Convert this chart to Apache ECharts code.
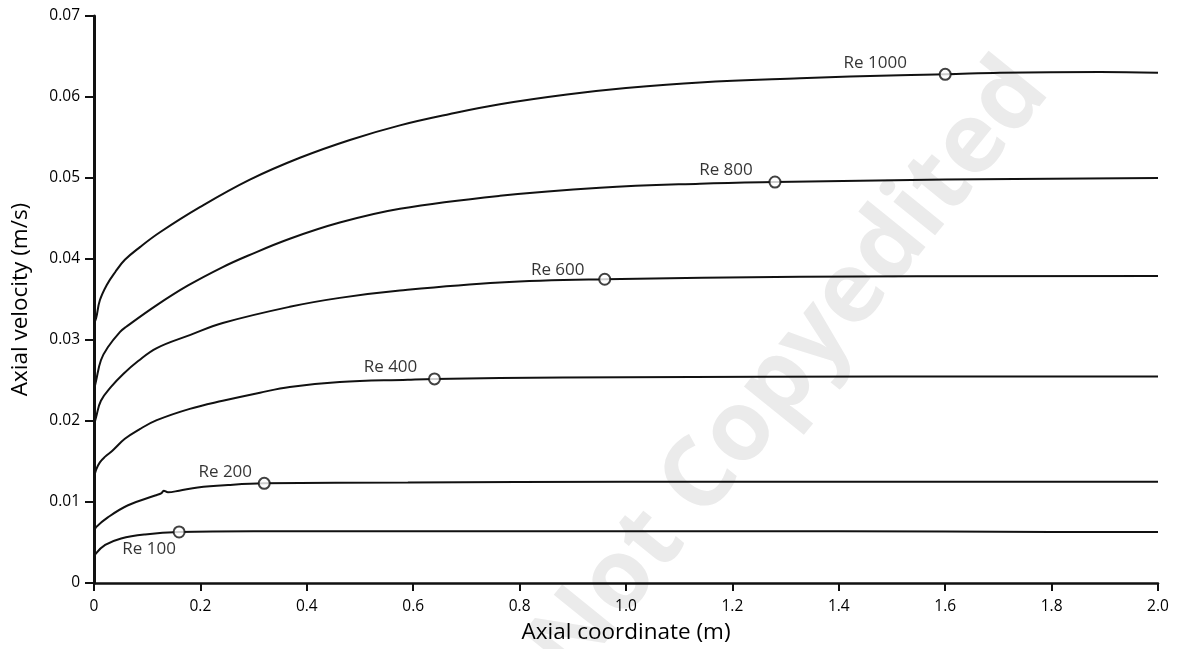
<!DOCTYPE html>
<html>
<head>
<meta charset="utf-8">
<script src="https://cdn.jsdelivr.net/npm/echarts@6/dist/echarts.min.js"></script>
<style>
html,body{margin:0;padding:0;background:#fff;}
#chart{width:1181px;height:649px;}
</style>
</head>
<body>
<div id="chart"></div>
<script>
// ---- data ----
const xTicks = [0, 0.2, 0.4, 0.6, 0.8, 1.0, 1.2, 1.4, 1.6, 1.8, 2.0];
const yTicks = [0, 0.01, 0.02, 0.03, 0.04, 0.05, 0.06, 0.07];

const re100X = [0, 0.003, 0.021, 0.051, 0.096, 0.16, 0.3, 0.6, 1.0, 1.4, 1.8, 2.0];
const re100Y = [0.0030, 0.0036, 0.0047, 0.0055, 0.0060, 0.0063, 0.0064, 0.0064, 0.0064, 0.0064, 0.0063, 0.0063];

const re200X = [0, 0.004, 0.026, 0.064, 0.115, 0.127, 0.131, 0.139, 0.16, 0.195, 0.252, 0.32, 0.59, 1.0, 1.5, 2.0];
const re200Y = [0.0063, 0.0069, 0.0081, 0.0096, 0.0108, 0.0111, 0.0114, 0.0112, 0.0114, 0.0118, 0.0121, 0.0123, 0.0124, 0.0125, 0.0125, 0.0125];

const re400X = [0, 0.004, 0.011, 0.021, 0.034, 0.058, 0.086, 0.118, 0.18, 0.242, 0.312, 0.368, 0.462, 0.59, 0.64, 0.763, 1.0, 1.5, 2.0];
const re400Y = [0.0130, 0.0140, 0.0149, 0.0156, 0.0163, 0.0178, 0.0190, 0.0201, 0.0215, 0.0225, 0.0235, 0.0242, 0.0248, 0.0251, 0.0252, 0.0253, 0.0254, 0.0255, 0.0255];

const re600X = [0, 0.004, 0.013, 0.032, 0.055, 0.083, 0.118, 0.18, 0.242, 0.368, 0.462, 0.575, 0.763, 0.96, 1.327, 2.0];
const re600Y = [0.0195, 0.0205, 0.0225, 0.0242, 0.0258, 0.0274, 0.0290, 0.0306, 0.0321, 0.0341, 0.0352, 0.0361, 0.0371, 0.0375, 0.0378, 0.0379];

const re800X = [0, 0.004, 0.013, 0.026, 0.049, 0.06, 0.118, 0.176, 0.242, 0.289, 0.368, 0.462, 0.575, 0.763, 0.951, 1.139, 1.28, 1.6, 2.0];
const re800Y = [0.0238, 0.0250, 0.0275, 0.0291, 0.0310, 0.0316, 0.0343, 0.0367, 0.0390, 0.0404, 0.0425, 0.0445, 0.0462, 0.0478, 0.0488, 0.0493, 0.0495, 0.0498, 0.0500];

const re1000X = [0, 0.004, 0.011, 0.024, 0.04, 0.058, 0.087, 0.124, 0.199, 0.293, 0.387, 0.481, 0.575, 0.669, 0.763, 0.889, 1.0, 1.139, 1.327, 1.515, 1.6, 1.703, 1.891, 2.0];
const re1000Y = [0.0320, 0.0327, 0.0349, 0.0368, 0.0384, 0.0399, 0.0415, 0.0433, 0.0464, 0.0498, 0.0525, 0.0547, 0.0565, 0.0579, 0.0591, 0.0603, 0.0611, 0.0618, 0.0623, 0.0627, 0.0628, 0.0630, 0.0631, 0.0630];

const seriesNames = ['Re 100', 'Re 200', 'Re 400', 'Re 600', 'Re 800', 'Re 1000'];
const markerX = [0.16, 0.32, 0.64, 0.96, 1.28, 1.6];
const markerY = [0.0063, 0.0123, 0.0252, 0.0375, 0.0495, 0.0628];

const watermarkText = 'Not Copyedited';

// ---- chart construction ----
const curves = [[re100X, re100Y], [re200X, re200Y], [re400X, re400Y], [re600X, re600Y], [re800X, re800Y], [re1000X, re1000Y]];
// label placement relative to each marker (style only)
const labelOffsets = [[-30, 17], [-39, -11], [-44, -12], [-47, -9], [-49, -12], [-70, -11]];

const FONT = '"Open Sans", "Noto Sans", sans-serif';

const lineSeries = curves.map((c, i) => ({
  type: 'line',
  name: seriesNames[i],
  data: c[0].map((x, k) => [x, c[1][k]]),
  showSymbol: false,
  smooth: 0.4,
  lineStyle: { color: '#111', width: 2 },
  z: 3,
  silent: true
}));

const markerSeries = {
  type: 'scatter',
  data: markerX.map((x, i) => ({
    value: [x, markerY[i]],
    label: {
      show: true,
      formatter: seriesNames[i],
      position: 'inside',
      offset: labelOffsets[i],
      color: '#000',
      fontSize: 17,
      fontFamily: FONT
    }
  })),
  symbol: 'circle',
  symbolSize: 11,
  itemStyle: { color: '#fff', borderColor: '#111', borderWidth: 2 },
  z: 5,
  silent: true
};

const chart = echarts.init(document.getElementById('chart'), null, { renderer: 'canvas' });
chart.setOption({
  animation: false,
  backgroundColor: '#fff',
  graphic: [{
    type: 'text',
    x: 790, y: 370,
    rotation: 51 * Math.PI / 180,
    z: 0,
    silent: true,
    style: {
      text: watermarkText,
      fontSize: 98,
      fontWeight: 'bold',
      fontFamily: FONT,
      fill: '#ebebeb',
      textAlign: 'center',
      textVerticalAlign: 'middle'
    }
  }],
  grid: { left: 94, right: 23, top: 16, bottom: 66, containLabel: false },
  xAxis: {
    type: 'value',
    min: xTicks[0], max: xTicks[xTicks.length - 1], interval: 0.2,
    name: 'Axial coordinate (m)',
    nameLocation: 'middle',
    nameGap: 38,
    nameTextStyle: { fontSize: 22.5, color: '#000', fontFamily: FONT },
    axisLine: { show: true, onZero: false, lineStyle: { color: '#111', width: 2.5 } },
    axisTick: { show: true, length: 8, lineStyle: { color: '#111', width: 2 } },
    axisLabel: {
      fontSize: 15.5, color: '#000', fontFamily: FONT, margin: 16,
      formatter: v => (v === 0 ? '0' : v.toFixed(1))
    },
    splitLine: { show: false }
  },
  yAxis: {
    type: 'value',
    min: yTicks[0], max: yTicks[yTicks.length - 1], interval: 0.01,
    name: 'Axial velocity (m/s)',
    nameLocation: 'middle',
    nameGap: 62,
    nameRotate: 90,
    nameTextStyle: { fontSize: 22.5, color: '#000', fontFamily: FONT },
    axisLine: { show: true, onZero: false, lineStyle: { color: '#111', width: 3 } },
    axisTick: { show: true, length: 9, lineStyle: { color: '#111', width: 2 } },
    axisLabel: {
      fontSize: 15.5, color: '#000', fontFamily: FONT, margin: 14,
      formatter: v => (v === 0 ? '0' : v.toFixed(2))
    },
    splitLine: { show: false }
  },
  series: [...lineSeries, markerSeries]
});
</script>
</body>
</html>
